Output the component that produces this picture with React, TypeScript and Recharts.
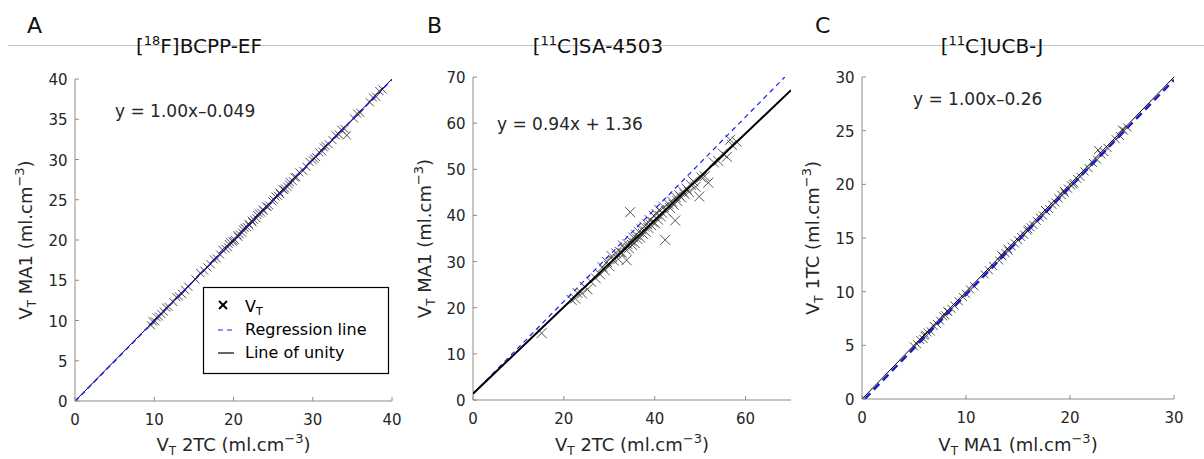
import React from 'react';
import { ScatterChart, Scatter, XAxis, YAxis } from 'recharts';

const FONT = '"DejaVu Sans", sans-serif';
const AXIS = '#8c8c8c';
const TXT = '#262626';

// ---------- Panel A: [18F]BCPP-EF (x = VT 2TC, y = VT MA1) ----------
const xTicksA = [0, 10, 20, 30, 40];
const yTicksA = [0, 5, 10, 15, 20, 25, 30, 35, 40];
const pointsA: [number, number][] = [
  [9.6, 9.4], [9.8, 9.9], [10.1, 9.9], [10.3, 10.4], [10.6, 10.5], [10.9, 10.8], [11.2, 11.1], [11.5, 11.6],
  [11.8, 11.7], [12.4, 12.3], [12.8, 12.9], [13.1, 13.0], [13.5, 13.3], [13.9, 13.8], [14.3, 14.2], [15.2, 15.1],
  [15.8, 15.9], [16.3, 16.2], [16.7, 16.6], [17.1, 17.0], [17.5, 17.6], [17.9, 17.7], [18.3, 18.2], [18.6, 18.8],
  [19.0, 18.9], [19.3, 19.1], [19.6, 19.7], [19.9, 19.8], [20.2, 20.0], [20.5, 20.6], [20.8, 20.7], [21.1, 20.9],
  [21.4, 21.5], [21.7, 21.6], [22.0, 21.8], [22.3, 22.4], [22.6, 22.5], [22.9, 22.7], [23.2, 23.3], [23.5, 23.4],
  [23.8, 23.6], [24.1, 24.2], [24.5, 24.3], [24.9, 24.8], [25.3, 25.4], [25.6, 25.5], [25.9, 25.7], [26.2, 26.3],
  [26.5, 26.4], [26.8, 26.6], [27.1, 27.2], [27.5, 27.3], [27.9, 27.8], [28.3, 28.4], [28.8, 28.6], [29.2, 29.1],
  [29.6, 29.7], [30.0, 29.9], [30.4, 30.3], [30.8, 30.9], [31.2, 31.0], [31.6, 31.7], [32.0, 31.9], [32.5, 32.4],
  [32.9, 33.0], [33.3, 33.1], [33.6, 33.7], [34.3, 33.0], [34.0, 33.8], [35.2, 35.1], [35.6, 35.7], [36.0, 35.8],
  [37.2, 37.1], [37.6, 37.7], [38.0, 37.8], [38.4, 38.5], [38.8, 38.7],
  [19.4, 19.5], [20.0, 19.9], [20.6, 20.4], [21.2, 21.3], [21.9, 22.0], [22.4, 22.2], [23.0, 23.1], [23.7, 23.8],
  [24.3, 24.1], [25.1, 25.0], [25.8, 25.9], [26.4, 26.2], [27.0, 26.9], [27.7, 27.8], [30.2, 30.1], [31.4, 31.5],
];
const unityA: [number, number][] = [[0, 0], [40, 40]];
const regressionA: [number, number][] = [[0, -0.049], [40, 39.951]];

// ---------- Panel B: [11C]SA-4503 (x = VT 2TC, y = VT MA1) ----------
const xTicksB = [0, 20, 40, 60];
const yTicksB = [0, 10, 20, 30, 40, 50, 60, 70];
const pointsB: [number, number][] = [
  [15.1, 14.5], [21.7, 21.7], [22.5, 22.0], [23.0, 23.2], [24.0, 23.1], [24.6, 24.5], [25.2, 24.0], [26.0, 25.6],
  [27.0, 26.4], [28.0, 27.2], [28.5, 28.8], [29.0, 28.1], [29.5, 29.9], [30.0, 29.0], [30.5, 31.2], [31.0, 30.2],
  [31.5, 31.8], [32.0, 30.5], [32.3, 32.1], [32.8, 31.9], [33.0, 33.5], [33.8, 30.3], [33.6, 32.6], [34.0, 33.8],
  [34.3, 32.9], [34.6, 40.7], [34.8, 34.5], [35.0, 33.6], [35.3, 35.2], [35.6, 34.0], [35.9, 35.8], [36.2, 34.9],
  [36.5, 36.4], [36.8, 35.2], [37.1, 37.0], [37.4, 36.0], [37.7, 37.6], [38.0, 36.5], [38.3, 38.1], [38.6, 37.3],
  [38.9, 39.0], [39.2, 37.9], [39.5, 38.6], [39.8, 39.9], [40.1, 38.3], [40.4, 40.3], [40.7, 39.1], [41.0, 41.2],
  [41.3, 39.8], [41.6, 40.6], [42.3, 34.7], [42.0, 41.8], [42.5, 40.9], [43.0, 42.5], [43.4, 41.6], [43.8, 43.0],
  [44.2, 42.3], [44.5, 38.9], [44.6, 44.0], [45.0, 43.1], [45.4, 44.4], [45.8, 43.9], [46.2, 45.2], [46.6, 44.6],
  [47.0, 45.8], [47.5, 45.1], [48.0, 46.6], [48.5, 47.4], [49.0, 46.2], [49.8, 44.1], [50.3, 48.2], [51.0, 48.5],
  [51.8, 47.1], [53.0, 51.5], [54.0, 51.8], [55.0, 53.4], [55.9, 52.7], [56.6, 56.4], [57.0, 55.3], [58.0, 56.0],
];
const regressionB: [number, number][] = [[0, 1.36], [70, 67.16]];
const unityB: [number, number][] = [[0, 1.36], [68.64, 70]];

// ---------- Panel C: [11C]UCB-J (x = VT MA1, y = VT 1TC) ----------
const xTicksC = [0, 10, 20, 30];
const yTicksC = [0, 5, 10, 15, 20, 25, 30];
const pointsC: [number, number][] = [
  [5.0, 4.9], [5.3, 5.1], [5.6, 5.5], [5.9, 5.6], [6.1, 6.0], [6.3, 6.2], [6.6, 6.3], [6.9, 6.8], [7.2, 7.0],
  [7.5, 7.3], [7.8, 7.7], [8.0, 7.8], [8.3, 8.1], [8.6, 8.4], [8.9, 8.7], [9.3, 9.1], [9.7, 9.5], [10.0, 9.8],
  [10.4, 10.2], [10.8, 10.5], [11.8, 11.6], [12.2, 12.0], [12.6, 12.4], [13.2, 12.9], [13.5, 13.3], [13.8, 13.6],
  [14.1, 13.8], [14.4, 14.2], [14.7, 14.5], [15.0, 14.8], [15.3, 15.1], [15.6, 15.3], [15.9, 15.7], [16.2, 16.0],
  [16.5, 16.2], [16.8, 16.6], [17.1, 16.9], [17.4, 17.1], [17.7, 17.5], [18.0, 17.7], [18.3, 18.1], [18.6, 18.3],
  [18.9, 18.7], [19.2, 19.0], [19.5, 19.2], [19.8, 19.6], [20.1, 19.9], [20.4, 20.1], [20.7, 20.5], [21.0, 20.7],
  [21.4, 21.2], [21.8, 21.5], [22.2, 22.0], [22.6, 22.3], [22.7, 23.2], [23.0, 22.8], [23.3, 23.0], [23.6, 23.4],
  [24.4, 24.2], [24.8, 24.5], [25.0, 25.1], [25.2, 25.0], [25.5, 25.3],
  [13.4, 13.4], [14.0, 14.0], [16.0, 15.8], [17.6, 17.6], [19.4, 19.4], [20.3, 20.0], [6.0, 5.9], [8.2, 8.2],
];
const unityC: [number, number][] = [[0, 0], [30, 30]];
const regressionC: [number, number][] = [[0.26, 0], [30, 29.74]];

const toXY = (pts: [number, number][]) => pts.map(([x, y]) => ({ x, y }));

function XTick(props: any) {
  const { x, y, payload } = props;
  return (
    <g>
      <line x1={x} y1={y} x2={x} y2={y - 4} stroke={AXIS} strokeWidth={1} />
      <text x={x} y={y + 23.5} textAnchor="middle" fontSize={15} fill={TXT} fontFamily={FONT}>
        {payload.value}
      </text>
    </g>
  );
}

function YTick(props: any) {
  const { x, y, payload } = props;
  return (
    <g>
      <line x1={x} y1={y} x2={x + 4} y2={y} stroke={AXIS} strokeWidth={1} />
      <text x={x - 7.5} y={y + 6} textAnchor="end" fontSize={15} fill={TXT} fontFamily={FONT}>
        {payload.value}
      </text>
    </g>
  );
}

const crossShape = (s: number, color: string, w: number) => (props: any) => {
  const { cx, cy } = props;
  if (cx == null || cy == null) return <g />;
  return (
    <g>
      <line x1={cx - s} y1={cy - s} x2={cx + s} y2={cy + s} stroke={color} strokeWidth={w} />
      <line x1={cx - s} y1={cy + s} x2={cx + s} y2={cy - s} stroke={color} strokeWidth={w} />
    </g>
  );
};
const noShape = () => <g />;

type LineSpec = { data: [number, number][]; color: string; width: number; dash?: string };

function Panel(p: {
  left: number;
  width: number;
  margin: { top: number; right: number; bottom: number; left: number };
  xDomain: [number, number];
  yDomain: [number, number];
  xTicks: number[];
  yTicks: number[];
  points: [number, number][];
  marker: { s: number; color: string; w: number };
  lines: LineSpec[];
}) {
  return (
    <div style={{ position: 'absolute', left: p.left, top: 0 }}>
      <ScatterChart width={p.width} height={459} margin={p.margin}>
        <XAxis
          type="number"
          dataKey="x"
          domain={p.xDomain}
          ticks={p.xTicks}
          interval={0}
          allowDataOverflow
          tickSize={0}
          tickMargin={0}
          tickLine={false}
          height={30}
          axisLine={{ stroke: AXIS }}
          tick={(tp: any) => <XTick {...tp} />}
        />
        <YAxis
          type="number"
          dataKey="y"
          domain={p.yDomain}
          ticks={p.yTicks}
          interval={0}
          allowDataOverflow
          tickSize={0}
          tickMargin={0}
          tickLine={false}
          width={40}
          axisLine={{ stroke: AXIS }}
          tick={(tp: any) => <YTick {...tp} />}
        />
        <Scatter
          data={toXY(p.points)}
          shape={crossShape(p.marker.s, p.marker.color, p.marker.w)}
          isAnimationActive={false}
          legendType="none"
        />
        {p.lines.map((l, i) => (
          <Scatter
            key={i}
            data={toXY(l.data)}
            shape={noShape}
            line={{ stroke: l.color, strokeWidth: l.width, strokeDasharray: l.dash }}
            lineType="joint"
            isAnimationActive={false}
            legendType="none"
          />
        ))}
      </ScatterChart>
    </div>
  );
}

function AxisLabel({ x, y, main, rotate }: { x: number; y: number; main: string; rotate?: boolean }) {
  const transform = rotate ? `translate(${x},${y}) rotate(-90)` : `translate(${x},${y})`;
  return (
    <text transform={transform} textAnchor="middle" fontSize={18} fill={TXT} fontFamily={FONT}>
      V<tspan fontSize={12} dy={4}>T</tspan>
      <tspan dy={-4}>{` ${main} (ml.cm`}</tspan>
      <tspan fontSize={13} dy={-8}>−3</tspan>
      <tspan dy={8}>)</tspan>
    </text>
  );
}

function Title({ x, iso, rest }: { x: number; iso: string; rest: string }) {
  return (
    <text x={x} y={53} textAnchor="middle" fontSize={20} fill="#111" fontFamily={FONT}>
      [<tspan fontSize={13} dy={-8}>{iso}</tspan>
      <tspan dy={8}>{rest}</tspan>
    </text>
  );
}

export default function App() {
  return (
    <div
      style={{
        position: 'absolute',
        left: 0,
        top: 0,
        width: 1204,
        height: 459,
        background: '#fff',
        overflow: 'hidden',
        fontFamily: FONT,
      }}
    >
      <Panel
        left={0}
        width={410}
        margin={{ top: 79, right: 18, bottom: 28, left: 35 }}
        xDomain={[0, 40]}
        yDomain={[0, 40]}
        xTicks={xTicksA}
        yTicks={yTicksA}
        points={pointsA}
        marker={{ s: 4, color: '#222', w: 0.8 }}
        lines={[
          { data: unityA, color: '#000', width: 1 },
          { data: regressionA, color: '#1a1aff', width: 1.5, dash: '5 4' },
        ]}
      />
      <Panel
        left={400}
        width={400}
        margin={{ top: 77, right: 9, bottom: 29, left: 33 }}
        xDomain={[0, 70]}
        yDomain={[0, 70]}
        xTicks={xTicksB}
        yTicks={yTicksB}
        points={pointsB}
        marker={{ s: 5, color: '#444', w: 0.9 }}
        lines={[
          { data: unityB, color: '#1a1aff', width: 1.2, dash: '5 4' },
          { data: regressionB, color: '#000', width: 2 },
        ]}
      />
      <Panel
        left={800}
        width={404}
        margin={{ top: 77, right: 30, bottom: 30, left: 22 }}
        xDomain={[0, 30]}
        yDomain={[0, 30]}
        xTicks={xTicksC}
        yTicks={yTicksC}
        points={pointsC}
        marker={{ s: 4, color: '#222', w: 0.8 }}
        lines={[
          { data: unityC, color: '#000', width: 1 },
          { data: regressionC, color: '#1a1acc', width: 2.5, dash: '8 5' },
        ]}
      />
      <svg
        width={1204}
        height={459}
        style={{ position: 'absolute', left: 0, top: 0, pointerEvents: 'none' }}
      >
        <line x1={8} y1={45.5} x2={1204} y2={45.5} stroke="#c4c4c4" strokeWidth={1} />
        <text x={27} y={33} fontSize={22} fill="#111" fontFamily={FONT}>A</text>
        <text x={427} y={33} fontSize={22} fill="#111" fontFamily={FONT}>B</text>
        <text x={815} y={33} fontSize={22} fill="#111" fontFamily={FONT}>C</text>

        <Title x={199} iso="18" rest="F]BCPP-EF" />
        <Title x={598} iso="11" rest="C]SA-4503" />
        <Title x={992} iso="11" rest="C]UCB-J" />

        <text x={115} y={116.5} fontSize={17} fill={TXT} fontFamily={FONT}>y = 1.00x–0.049</text>
        <text x={497} y={130} fontSize={17} fill={TXT} fontFamily={FONT}>y = 0.94x + 1.36</text>
        <text x={913} y={105} fontSize={17} fill={TXT} fontFamily={FONT}>y = 1.00x–0.26</text>

        <AxisLabel x={233.5} y={451} main="2TC" />
        <AxisLabel x={632} y={451} main="2TC" />
        <AxisLabel x={1018} y={451} main="MA1" />
        <AxisLabel x={32} y={240} main="MA1" rotate />
        <AxisLabel x={431} y={238.5} main="MA1" rotate />
        <AxisLabel x={819} y={238} main="1TC" rotate />

        <rect x={203.5} y={287.5} width={185} height={86} fill="#fff" stroke="#000" strokeWidth={1.2} />
        <line x1={219} y1={301} x2={227} y2={309} stroke="#000" strokeWidth={2} />
        <line x1={219} y1={309} x2={227} y2={301} stroke="#000" strokeWidth={2} />
        <text x={245} y={312} fontSize={16} fill="#000" fontFamily={FONT}>
          V<tspan fontSize={11} dy={3}>T</tspan>
        </text>
        <line x1={218} y1={330} x2={234} y2={330} stroke="#1a1aff" strokeWidth={1.2} strokeDasharray="5 4" />
        <text x={245} y={335} fontSize={16} fill="#000" fontFamily={FONT}>Regression line</text>
        <line x1={218} y1={353} x2={234} y2={353} stroke="#000" strokeWidth={1.2} />
        <text x={245} y={358} fontSize={16} fill="#000" fontFamily={FONT}>Line of unity</text>
      </svg>
    </div>
  );
}
